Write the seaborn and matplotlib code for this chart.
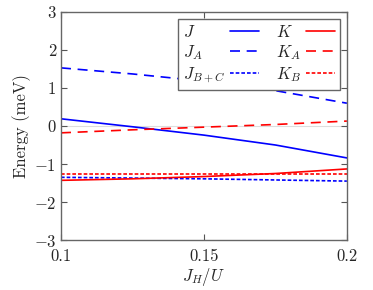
import numpy as np
import pandas as pd
import matplotlib
matplotlib.use('Agg')
import matplotlib.pyplot as plt
import seaborn as sns

# Data
jh_u = [0.1, 0.125, 0.15, 0.175, 0.2]
J = [0.19, -0.02, -0.24, -0.50, -0.84]
J_A = [1.53, 1.37, 1.18, 0.93, 0.60]
J_BC = [-1.35, -1.37, -1.39, -1.42, -1.45]
K = [-1.43, -1.39, -1.33, -1.25, -1.13]
K_A = [-0.18, -0.10, -0.03, 0.04, 0.13]
K_B = [-1.27, -1.27, -1.27, -1.27, -1.27]

sns.set_style('ticks')
plt.rcParams['font.family'] = 'serif'
plt.rcParams['font.serif'] = ['cmr10', 'DejaVu Serif']
plt.rcParams['mathtext.fontset'] = 'cm'
plt.rcParams['axes.formatter.use_mathtext'] = True
plt.rcParams['font.size'] = 12

fig = plt.figure(figsize=(3.73, 2.90), dpi=100)
ax = fig.add_axes([0.1635, 0.1724, 0.7665, 0.7862])

ax.axhline(0, color='#dddddd', lw=0.8, zorder=0)

series = [
    (J, r'$J$', 'blue', (None, None)),
    (J_A, r'$J_A$', 'blue', (6, 4)),
    (J_BC, r'$J_{B+C}$', 'blue', (2.2, 1.2)),
    (K, r'$K$', 'red', (None, None)),
    (K_A, r'$K_A$', 'red', (6, 4)),
    (K_B, r'$K_B$', 'red', (2.2, 1.2)),
]
for vals, lab, col, dash in series:
    df = pd.DataFrame({'x': jh_u, 'y': vals})
    line = sns.lineplot(data=df, x='x', y='y', ax=ax, color=col, lw=1.2,
                        label=lab).get_lines()[-1]
    if dash[0] is not None:
        line.set_dashes(dash)

ax.set_xlim(0.1, 0.2)
ax.set_ylim(-3, 3)
ax.set_xticks([0.1, 0.15, 0.2])
ax.set_xticklabels(['0.1', '0.15', '0.2'])
ax.set_yticks([-3, -2, -1, 0, 1, 2, 3])
ax.set_yticklabels([r'$-3$', r'$-2$', r'$-1$', '0', '1', '2', '3'])
ax.tick_params(direction='in', top=True, right=True, length=4, color='#555555')
ax.tick_params(axis='x', pad=6)
for s in ax.spines.values():
    s.set_color('#666666')
    s.set_linewidth(1.0)
ax.set_xlabel(r'$J_H/U$', labelpad=2)
ax.set_ylabel('Energy (meV)', labelpad=2)

leg = ax.legend(ncol=2, loc='upper right', markerfirst=False, fancybox=False,
                edgecolor='#666666', framealpha=1, handlelength=1.75,
                columnspacing=1.0, labelspacing=0.2, borderpad=0.3,
                handletextpad=0.3, borderaxespad=0.4)
leg.get_frame().set_linewidth(1.0)

# left-align labels while keeping the handles lined up in each column
fig.canvas.draw()
r = fig.canvas.get_renderer()
base = 0.3 * 12
for col in leg._legend_handle_box.get_children():
    col.align = 'left'
    rows = col.get_children()
    widths = [row.get_children()[0].get_window_extent(r).width for row in rows]
    wmax = max(widths)
    for row, w in zip(rows, widths):
        row.sep = base + (wmax - w) * 72 / fig.dpi

fig.savefig('out.png', dpi=100)
